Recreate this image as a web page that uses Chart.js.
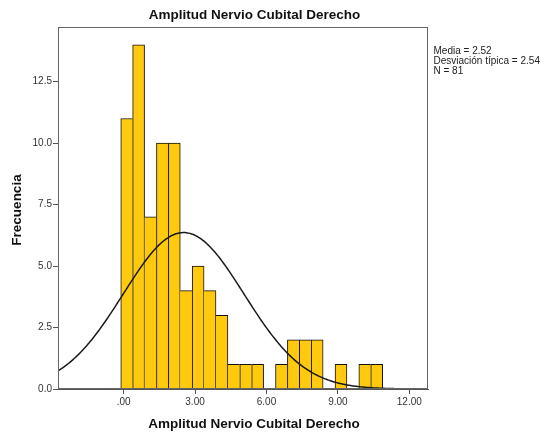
<!DOCTYPE html>
<html>
<head>
<meta charset="utf-8">
<script src="https://cdn.jsdelivr.net/npm/chart.js@4"></script>
<style>
  html, body { margin: 0; padding: 0; background: #fff; }
</style>
</head>
<body>
<canvas id="hist" width="555" height="441"></canvas>
<script>
// histogram bins (lower edge of first bin, bin width) and frequencies
const binStart = -0.12;
const binWidth = 0.5;
const counts = [11, 14, 7, 10, 10, 4, 5, 4, 3, 1, 1, 1, 0, 1, 2, 2, 2, 0, 1, 0, 1, 1];

// summary stats shown next to the plot
const media = 2.52;
const desviacion = 2.54;
const total = 81;

const xTicks = [0, 3, 6, 9, 12];
const yTicks = [0, 2.5, 5, 7.5, 10, 12.5];
const xMin = -2.756, xMax = 12.785;
const yMax = 14.72;

const FONT = "'Liberation Sans', Arial, sans-serif";

let bars = counts.map((c, i) => ({ x: binStart + binWidth * (i + 0.5), y: c }));

// normal curve scaled to the histogram (N * bin width * density)
let curve = [];
for (let k = 0; k <= 320; k++) {
  let x = xMin + (xMax - xMin) * k / 320;
  let z = (x - media) / desviacion;
  let y = total * binWidth * Math.exp(-0.5 * z * z) / (desviacion * Math.sqrt(2 * Math.PI));
  curve.push({ x: x, y: y });
}

// shared edges get drawn only once, on the taller bar
function edgeWidths(ctx) {
  let i = ctx.dataIndex;
  let c = counts[i];
  let left = (i === 0 || c >= counts[i - 1]) ? 1 : 0;
  let right = (i === counts.length - 1 || c > counts[i + 1]) ? 1 : 0;
  return { top: 1, left: left, right: right, bottom: 0 };
}

const textPlugin = {
  id: 'texts',
  afterDraw(chart) {
    const ctx = chart.ctx;
    const a = chart.chartArea;
    ctx.save();
    // plot frame
    ctx.strokeStyle = '#666';
    ctx.lineWidth = 1;
    ctx.strokeRect(Math.round(a.left) + 0.5, Math.round(a.top) + 0.5,
      Math.round(a.right - a.left) - 1, Math.round(a.bottom - a.top) - 1);

    ctx.fillStyle = '#111';
    ctx.textAlign = 'center';
    ctx.textBaseline = 'middle';
    ctx.font = 'bold 13.5px ' + FONT;
    ctx.fillText('Amplitud Nervio Cubital Derecho', 254.5, 15);
    ctx.fillText('Amplitud Nervio Cubital Derecho', 254, 424);

    ctx.save();
    ctx.translate(17, 210);
    ctx.rotate(-Math.PI / 2);
    ctx.fillText('Frecuencia', 0, 0);
    ctx.restore();

    ctx.font = '10px ' + FONT;
    ctx.textAlign = 'left';
    ctx.fillStyle = '#222';
    ctx.fillText('Media = ' + media.toFixed(2), 433.5, 51);
    ctx.fillText('Desviación típica = ' + desviacion.toFixed(2), 433.5, 61);
    ctx.fillText('N = ' + total, 433.5, 71);
    ctx.restore();
  }
};

const chart = new Chart(document.getElementById('hist').getContext('2d'), {
  type: 'bar',
  data: {
    datasets: [{
      type: 'line',
      data: curve,
      borderColor: '#1a1a1a',
      borderWidth: 1.5,
      pointRadius: 0,
      tension: 0,
      fill: false,
      order: 0
    }, {
      type: 'bar',
      data: bars,
      backgroundColor: '#FFC90E',
      borderColor: '#111',
      borderWidth: edgeWidths,
      borderSkipped: false,
      barPercentage: 1,
      categoryPercentage: 1,
      order: 1
    }]
  },
  options: {
    responsive: false,
    animation: false,
    devicePixelRatio: 1,
    layout: { padding: { top: 27, right: 127, left: 0, bottom: 0 } },
    plugins: {
      legend: { display: false },
      tooltip: { enabled: false },
      title: { display: false }
    },
    scales: {
      x: {
        type: 'linear',
        min: xMin,
        max: xMax,
        offset: false,
        afterBuildTicks: s => { s.ticks = xTicks.map(v => ({ value: v })); },
        afterFit: s => { s.height = 52; },
        grid: { offset: false, drawOnChartArea: false, tickLength: 5, color: '#555' },
        border: { color: '#555' },
        ticks: {
          padding: 2,
          maxRotation: 0,
          color: '#333',
          font: { family: FONT, size: 10 },
          callback: v => v === 0 ? '.00' : v.toFixed(2)
        }
      },
      y: {
        min: 0,
        max: yMax,
        afterBuildTicks: s => { s.ticks = yTicks.map(v => ({ value: v })); },
        afterFit: s => { s.width = 58; },
        grid: { drawOnChartArea: false, tickLength: 5, color: '#555' },
        border: { color: '#555' },
        ticks: {
          padding: 1,
          color: '#333',
          font: { family: FONT, size: 10 },
          callback: v => v.toFixed(1)
        }
      }
    }
  },
  plugins: [textPlugin]
});
</script>
</body>
</html>
